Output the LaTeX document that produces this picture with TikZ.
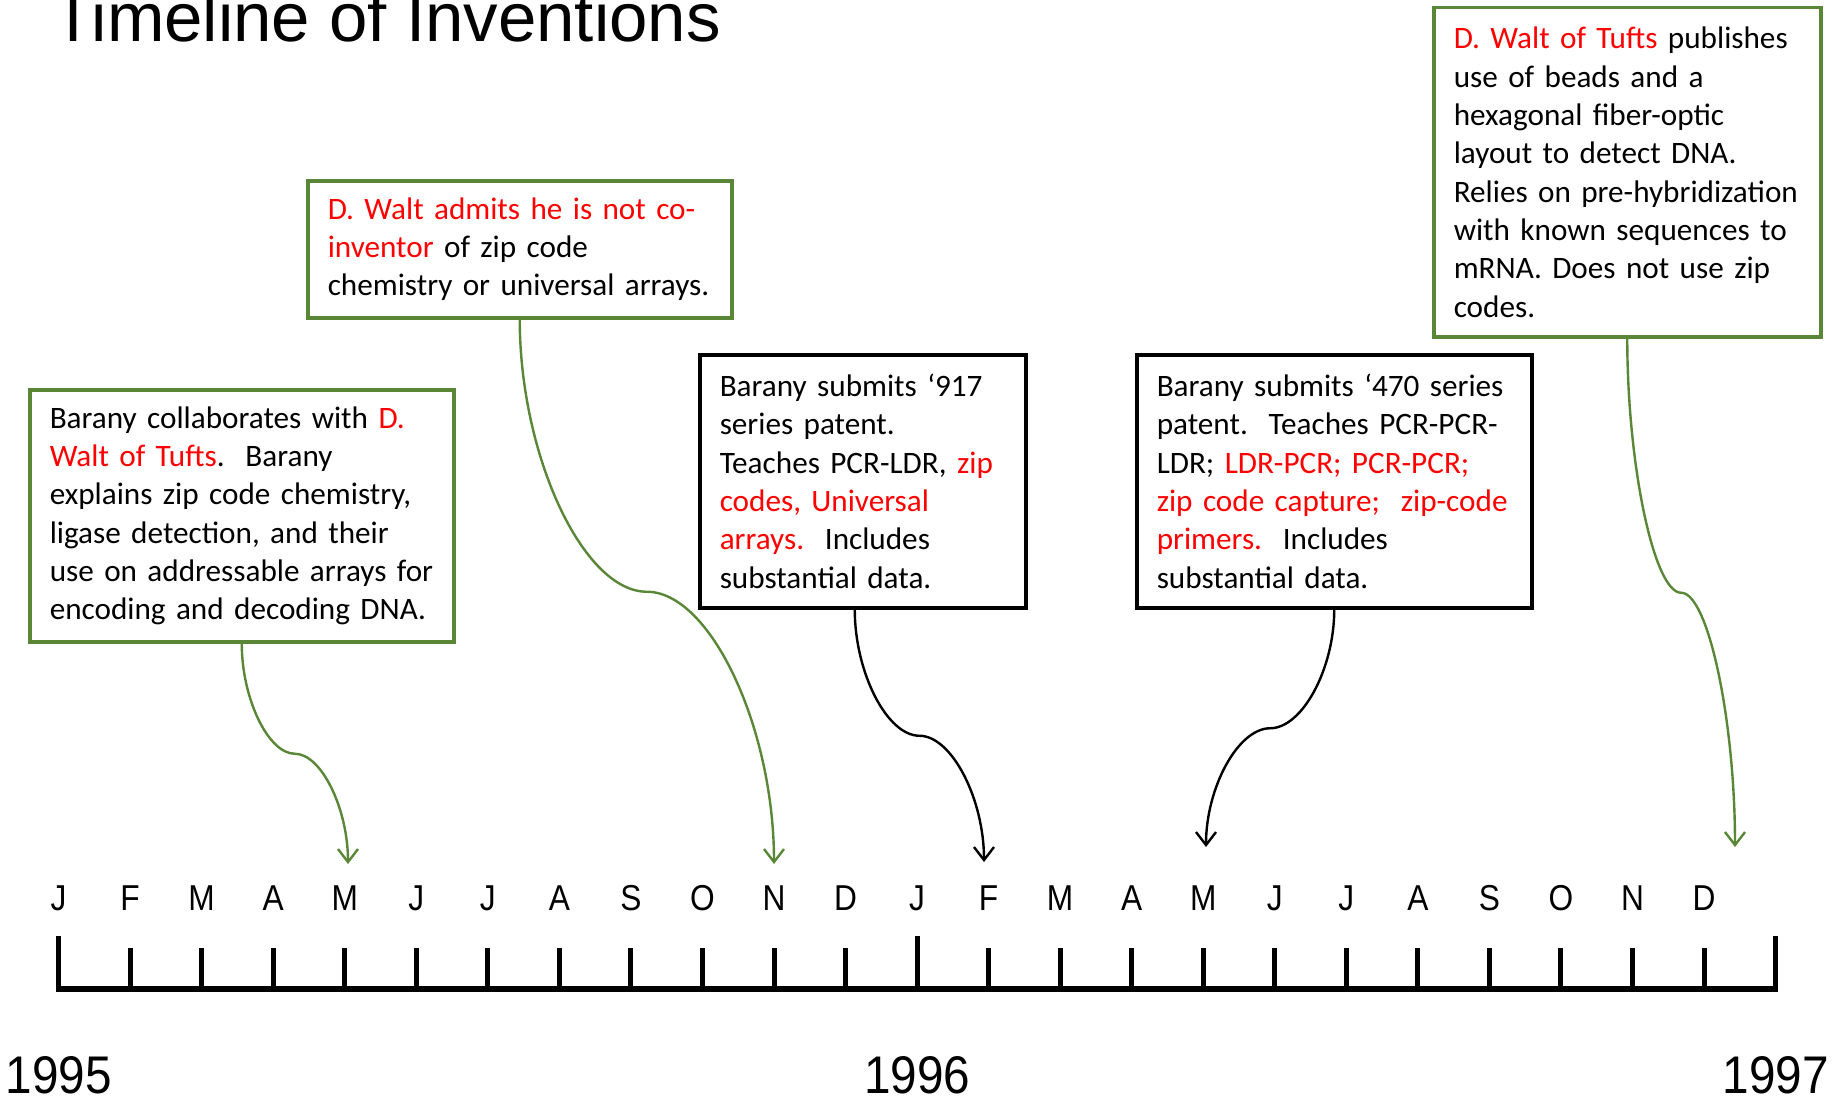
\documentclass[tikz,border=0pt]{standalone}
\usepackage{graphicx}
\usepackage{fontspec}
\setmainfont{Carlito}
\newfontfamily\arialfont{Liberation Sans}
\usetikzlibrary{arrows.meta,calc}
\definecolor{tlgreen}{RGB}{90,135,55}
\definecolor{tlred}{RGB}{255,0,0}
\newcommand\sconn[3]{\draw[#1] let \p1=(#2), \p2=(#3) in (\p1) .. controls (\x1,{0.75*\y1+0.25*\y2}) and ({0.75*\x1+0.25*\x2},{0.5*\y1+0.5*\y2}) .. ({0.5*\x1+0.5*\x2},{0.5*\y1+0.5*\y2}) .. controls ({0.25*\x1+0.75*\x2},{0.5*\y1+0.5*\y2}) and (\x2,{0.25*\y1+0.75*\y2}) .. (\p2);}
\frenchspacing
\begin{document}
\begin{tikzpicture}[x=1pt,y=-1pt,
  gbox/.style={draw=tlgreen, line width=3.5pt, fill=white, anchor=north west, align=left, inner xsep=20pt, inner ysep=0pt, font=\fontsize{31.2}{38.3}\selectfont},
  kbox/.style={gbox, draw=black},
  gconn/.style={draw=tlgreen, line width=2.4pt, -{Straight Barb[length=13pt,width=20pt]}},
  kconn/.style={gconn, draw=black},
  month/.style={font=\arialfont\fontsize{36}{36}\selectfont, anchor=base, inner sep=0pt},
  year/.style={font=\arialfont\fontsize{53}{53}\selectfont, anchor=base, inner sep=0pt},
  tick/.style={line width=5pt}
]
\useasboundingbox[fill=white] (0,0) rectangle (1839,1097);

% title
\node[anchor=base west, inner sep=0pt, font=\arialfont\fontsize{69}{69}\selectfont] (title) at (52,42) {Timeline of Inventions};

% axis
\draw[line width=6pt] (56,989) -- (1778,989);
\foreach \i in {0,...,24} {
  \draw[tick] ({58.6+\i*71.54},948) -- ({58.6+\i*71.54},989);
}
\foreach \i in {0,12,24} {
  \draw[tick] ({58.6+\i*71.54},936) -- ({58.6+\i*71.54},989);
}
\foreach \l [count=\i from 0] in {J,F,M,A,M,J,J,A,S,O,N,D,J,F,M,A,M,J,J,A,S,O,N,D} {
  \node[month] (m\i) at ({58.6+\i*71.54},910) {\scalebox{0.88}[1]{\l}};
}
\node[year] (y95) at (58.6,1093) {\scalebox{0.9}[1]{1995}};
\node[year] (y96) at (917.1,1093) {\scalebox{0.9}[1]{1996}};
\node[year] (y97) at (1775.6,1093) {\scalebox{0.9}[1]{1997}};

% boxes
\node[gbox, text width=384pt, minimum height=252pt] (b1) at (28,388) {%
\mbox{Barany collaborates with \textcolor{tlred}{D.}}\\
\mbox{\textcolor{tlred}{Walt of Tufts}.\ \ Barany}\\
\mbox{explains zip code chemistry,}\\
\mbox{ligase detection, and their}\\
\mbox{use on addressable arrays for}\\
\mbox{encoding and decoding DNA.}};

\node[gbox, text width=384pt, minimum height=137pt] (b2) at (306,179) {%
\mbox{\textcolor{tlred}{D. Walt admits he is not co-}}\\
\mbox{\textcolor{tlred}{inventor} of zip code}\\
\mbox{chemistry or universal arrays.}};

\node[kbox, text width=286pt, minimum height=253pt] (b3) at (698,353) {%
\mbox{Barany submits ‘917}\\
\mbox{series patent.}\\
\mbox{Teaches PCR-LDR, \textcolor{tlred}{zip}}\\
\mbox{\textcolor{tlred}{codes, Universal}}\\
\mbox{\textcolor{tlred}{arrays.}\ \ Includes}\\
\mbox{substantial data.}};

\node[kbox, text width=355pt, minimum height=253pt] (b4) at (1135,353) {%
\mbox{Barany submits ‘470 series}\\
\mbox{patent.\ \ Teaches PCR-PCR-}\\
\mbox{LDR; \textcolor{tlred}{LDR-PCR; PCR-PCR;}}\\
\mbox{\textcolor{tlred}{zip code capture;\ \ zip-code}}\\
\mbox{\textcolor{tlred}{primers.}\ \ Includes}\\
\mbox{substantial data.}};

\node[gbox, text width=347pt, minimum height=329pt] (b5) at (1432,6) {%
\mbox{\textcolor{tlred}{D. Walt of Tufts} publishes}\\
\mbox{use of beads and a}\\
\mbox{hexagonal fiber-optic}\\
\mbox{layout to detect DNA.}\\
\mbox{Relies on pre-hybridization}\\
\mbox{with known sequences to}\\
\mbox{mRNA. Does not use zip}\\
\mbox{codes.}};

% connector ends
\coordinate (e1) at (348,864);
\coordinate (e2) at (774,864);
\coordinate (e3) at (984,862);
\coordinate (e4) at (1206,847);
\coordinate (e5) at (1735,847);

\sconn{gconn}{b1.south}{e1}
\sconn{gconn}{b2.south}{e2}
\sconn{kconn}{[xshift=-8pt]b3.south}{e3}
\sconn{kconn}{b4.south}{e4}
\sconn{gconn}{b5.south}{e5}
\end{tikzpicture}
\end{document}
